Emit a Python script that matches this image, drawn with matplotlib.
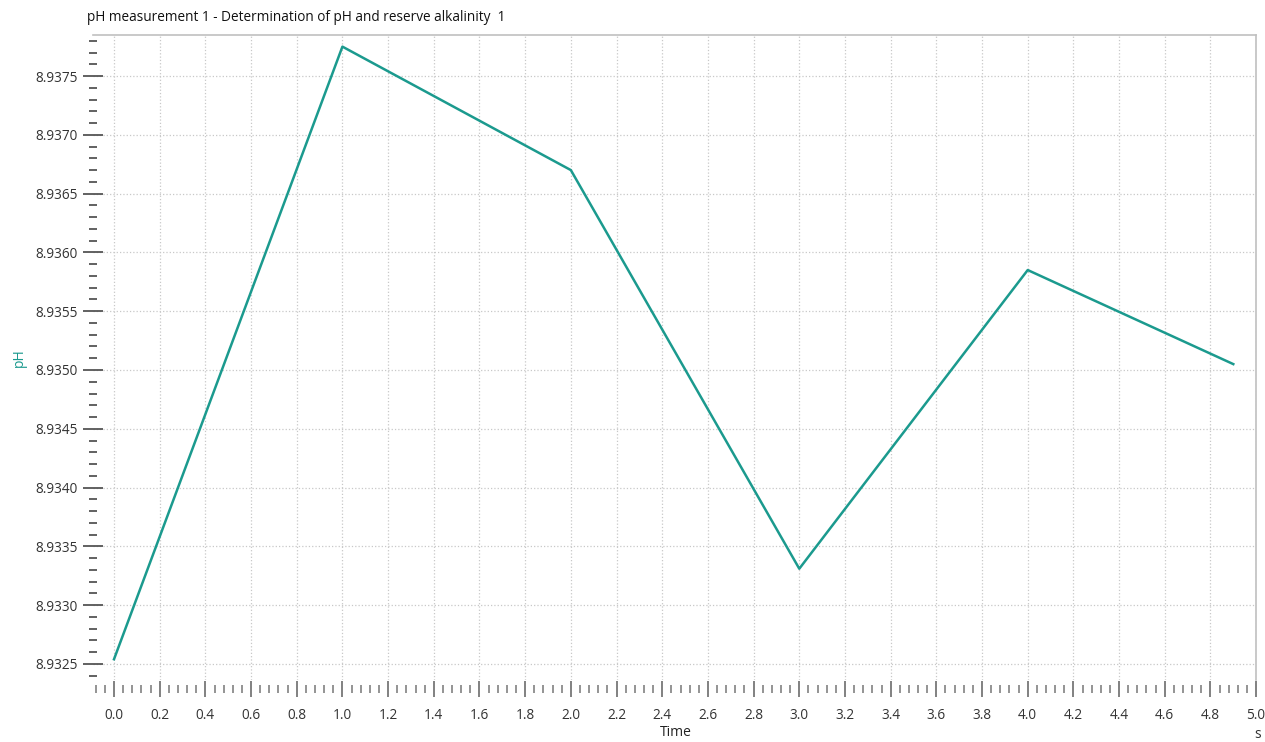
import numpy as np
import matplotlib.pyplot as plt
from matplotlib.ticker import MultipleLocator, FormatStrFormatter

# data
time_s = [0.0, 1.0, 2.0, 3.0, 4.0, 4.9]
ph = [8.93254, 8.93775, 8.93670, 8.93331, 8.93585, 8.93505]

line_color = "#1b9a8e"
plt.rcParams["font.family"] = ["Open Sans", "DejaVu Sans"]

fig = plt.figure(figsize=(12.65, 7.42), dpi=100)
ax = fig.add_axes([0.0735, 0.083, 0.9195, 0.870])

ax.plot(time_s, ph, color=line_color, lw=1.8)

ax.set_xlim(-0.092, 5.0)
ax.set_ylim(8.93236, 8.93785)

ax.xaxis.set_major_locator(MultipleLocator(0.2))
ax.xaxis.set_minor_locator(MultipleLocator(0.04))
ax.yaxis.set_major_locator(MultipleLocator(0.0005))
ax.yaxis.set_minor_locator(MultipleLocator(0.0001))
ax.xaxis.set_major_formatter(FormatStrFormatter("%.1f"))
ax.yaxis.set_major_formatter(FormatStrFormatter("%.4f"))

ax.grid(True, which="major", color="#c8c8c8", linestyle=":", linewidth=0.9)

for s in ["left", "bottom"]:
    ax.spines[s].set_visible(False)
for s in ["top", "right"]:
    ax.spines[s].set_color("#c0c0c0")
    ax.spines[s].set_linewidth(1.2)
# x ticks sit in a strip just below the plotting area
ax.spines["bottom"].set_position(("outward", 6))

ax.tick_params(axis="y", which="major", direction="inout", length=14, width=1.3,
               color="#555555", labelsize=9.8, labelcolor="#333333", pad=4)
ax.tick_params(axis="y", which="minor", direction="inout", length=6, width=1.3, color="#555555")
ax.tick_params(axis="x", which="major", direction="inout", length=12, width=1.3,
               color="#777777", labelsize=9.8, labelcolor="#333333", pad=8)
ax.tick_params(axis="x", which="minor", direction="inout", length=6, width=1.1, color="#777777")

ax.set_title("pH measurement 1 - Determination of pH and reserve alkalinity  1",
             loc="left", fontsize=9.8, x=-0.005, pad=10, color="#111111")
ax.set_ylabel("pH", color=line_color, fontsize=10, labelpad=6)
fig.text(0.534, 0.013, "Time", fontsize=10, ha="center", va="center", color="#222222")
fig.text(0.994, 0.0, "s", fontsize=10, ha="center", va="bottom", color="#333333")

fig.savefig("out.png", dpi=100)
